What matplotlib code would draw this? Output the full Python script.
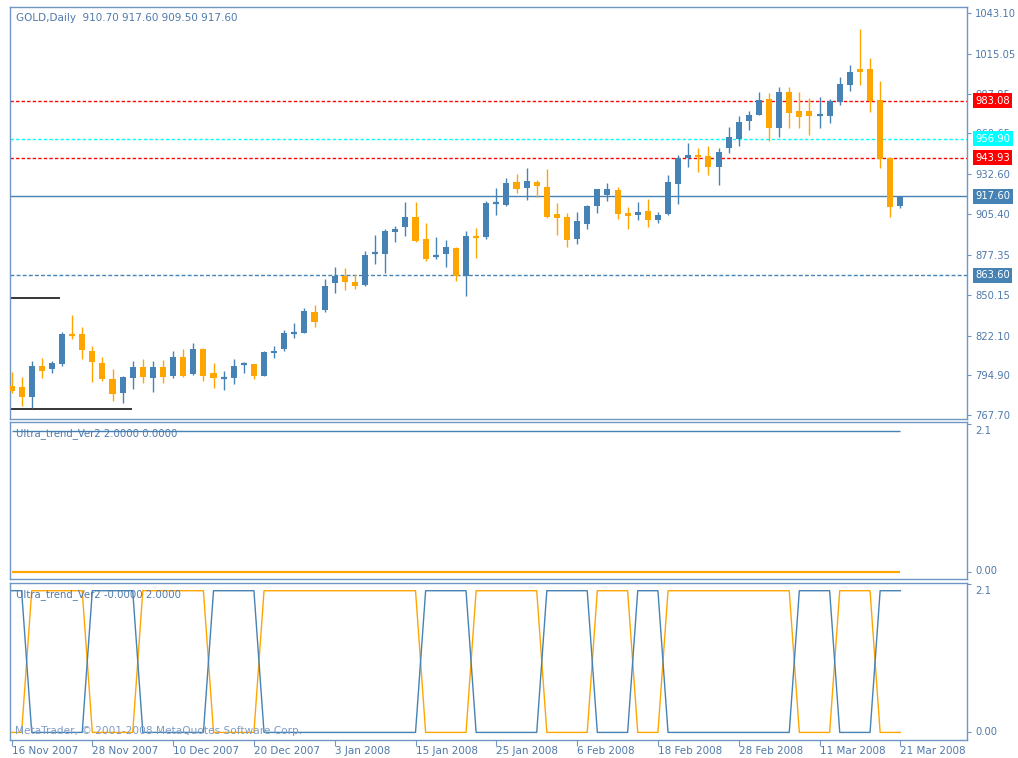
import matplotlib
matplotlib.use("Agg")
import matplotlib.pyplot as plt
import matplotlib.transforms as mtransforms

# ---------------- data ----------------
opens = [787.6, 786.7, 779.8, 801.3, 799.2, 802.4, 823.4, 823.0, 811.5, 803.1,
         792.6, 782.6, 792.8, 800.4, 792.8, 800.4, 794.6, 807.6, 795.6, 812.7,
         796.3, 792.5, 792.8, 802.4, 802.4, 794.6, 810.0, 812.7, 823.2, 824.1,
         838.5, 839.6, 857.9, 862.9, 859.0, 856.8, 877.8, 877.8, 893.3, 896.7,
         903.3, 888.5, 876.1, 877.8, 881.9, 863.1, 890.3, 889.4, 912.2, 911.6,
         927.5, 923.0, 927.5, 924.1, 905.2, 903.5, 888.1, 898.5, 910.9, 918.4,
         921.8, 906.3, 904.5, 907.7, 901.3, 905.4, 926.0, 943.6, 945.8, 945.1,
         937.4, 950.4, 956.6, 969.3, 973.2, 984.0, 964.1, 989.2, 976.2, 976.2,
         972.7, 972.5, 982.3, 993.8, 1004.5, 1004.5, 983.5, 943.6, 910.7]
highs = [797.4, 793.5, 804.7, 806.5, 805.0, 824.8, 836.2, 828.2, 815.2, 807.2,
         799.0, 794.4, 805.0, 805.9, 805.0, 805.4, 811.7, 812.7, 816.8, 813.4,
         803.1, 797.8, 805.9, 804.2, 803.0, 811.5, 815.2, 825.9, 830.5, 840.8,
         843.1, 860.7, 868.9, 868.2, 864.3, 880.2, 891.0, 894.9, 897.4, 913.8,
         913.8, 899.0, 889.4, 887.6, 882.6, 894.0, 895.6, 914.5, 923.0, 929.9,
         932.8, 936.7, 928.7, 936.0, 912.7, 905.9, 907.0, 911.6, 922.3, 926.8,
         924.1, 910.4, 913.8, 915.5, 907.0, 932.1, 945.8, 953.8, 950.4, 952.0,
         950.4, 964.8, 972.5, 976.2, 989.2, 988.5, 992.6, 992.6, 989.2, 984.7,
         985.4, 984.0, 999.5, 1007.5, 1031.9, 1012.1, 996.7, 943.9, 917.6]
lows = [782.6, 773.9, 772.3, 792.8, 796.3, 801.5, 819.8, 805.9, 790.5, 791.0,
        777.5, 775.7, 785.3, 789.4, 783.7, 789.4, 792.8, 793.9, 795.0, 791.2,
        786.0, 784.8, 788.9, 796.7, 792.2, 794.6, 806.9, 811.7, 820.6, 824.1,
        828.2, 838.5, 851.5, 853.3, 853.8, 856.1, 871.1, 864.8, 886.4, 890.5,
        886.4, 873.4, 874.4, 868.9, 859.7, 849.2, 875.0, 888.1, 904.7, 910.9,
        919.6, 915.0, 917.2, 902.4, 891.0, 883.0, 884.8, 894.9, 906.3, 914.5,
        901.8, 894.9, 901.3, 896.7, 899.4, 904.7, 912.2, 937.4, 934.4, 932.1,
        925.3, 947.4, 952.0, 963.0, 973.2, 955.6, 957.9, 964.1, 964.1, 959.5,
        964.1, 967.5, 980.1, 989.9, 993.8, 975.5, 936.7, 903.5, 909.5]
closes = [784.3, 780.0, 801.3, 798.0, 803.1, 823.2, 822.3, 812.2, 804.2, 792.2,
          781.9, 793.5, 800.4, 793.9, 800.4, 793.5, 807.6, 794.6, 812.7, 794.6,
          792.8, 793.0, 801.3, 803.1, 794.6, 810.8, 811.7, 823.7, 824.8, 839.2,
          831.6, 856.3, 863.1, 858.6, 856.1, 877.3, 879.2, 893.7, 894.9, 903.3,
          887.1, 874.8, 877.3, 882.6, 863.1, 890.3, 889.4, 912.7, 913.8, 926.8,
          922.5, 928.2, 924.6, 903.5, 902.9, 887.6, 900.8, 910.9, 922.3, 922.3,
          905.4, 904.0, 907.0, 901.3, 904.7, 927.5, 943.6, 945.8, 944.2, 937.4,
          948.1, 958.4, 968.6, 973.2, 983.5, 964.1, 989.2, 974.4, 971.6, 972.7,
          973.4, 983.0, 994.5, 1002.9, 1002.9, 983.0, 942.9, 910.0, 917.6]

date_labels = ['16 Nov 2007', '28 Nov 2007', '10 Dec 2007', '20 Dec 2007',
               '3 Jan 2008', '15 Jan 2008', '25 Jan 2008', '6 Feb 2008',
               '18 Feb 2008', '28 Feb 2008', '11 Mar 2008', '21 Mar 2008']
date_label_bars = [0, 8, 16, 24, 32, 40, 48, 56, 64, 72, 80, 88]

price_ticks = [1043.10, 1015.05, 987.85, 960.65, 932.60, 905.40, 877.35,
               850.15, 822.10, 794.90, 767.70]

red_levels = [983.08, 943.93]
cyan_level = 956.90
bid_level = 917.60
blue_dashed_level = 863.60
black_levels = [848.0, 771.8]
black_level_end_bars = [4.8, 11.9]

mid_blue = [2, 2, 2, 2, 2, 2, 2, 2, 2, 2, 2, 2, 2, 2, 2, 2, 2, 2, 2, 2,
            2, 2, 2, 2, 2, 2, 2, 2, 2, 2, 2, 2, 2, 2, 2, 2, 2, 2, 2, 2,
            2, 2, 2, 2, 2, 2, 2, 2, 2, 2, 2, 2, 2, 2, 2, 2, 2, 2, 2, 2,
            2, 2, 2, 2, 2, 2, 2, 2, 2, 2, 2, 2, 2, 2, 2, 2, 2, 2, 2, 2,
            2, 2, 2, 2, 2, 2, 2, 2, 2]
mid_orange = [0, 0, 0, 0, 0, 0, 0, 0, 0, 0, 0, 0, 0, 0, 0, 0, 0, 0, 0, 0,
              0, 0, 0, 0, 0, 0, 0, 0, 0, 0, 0, 0, 0, 0, 0, 0, 0, 0, 0, 0,
              0, 0, 0, 0, 0, 0, 0, 0, 0, 0, 0, 0, 0, 0, 0, 0, 0, 0, 0, 0,
              0, 0, 0, 0, 0, 0, 0, 0, 0, 0, 0, 0, 0, 0, 0, 0, 0, 0, 0, 0,
              0, 0, 0, 0, 0, 0, 0, 0, 0]

low_blue = [2, 2, 0, 0, 0, 0, 0, 0, 2, 2, 2, 2, 2, 0, 0, 0, 0, 0, 0, 0,
            2, 2, 2, 2, 2, 0, 0, 0, 0, 0, 0, 0, 0, 0, 0, 0, 0, 0, 0, 0,
            0, 2, 2, 2, 2, 2, 0, 0, 0, 0, 0, 0, 0, 2, 2, 2, 2, 2, 0, 0,
            0, 0, 2, 2, 2, 0, 0, 0, 0, 0, 0, 0, 0, 0, 0, 0, 0, 0, 2, 2,
            2, 2, 0, 0, 0, 0, 2, 2, 2]
low_orange = [0, 0, 2, 2, 2, 2, 2, 2, 0, 0, 0, 0, 0, 2, 2, 2, 2, 2, 2, 2,
              0, 0, 0, 0, 0, 2, 2, 2, 2, 2, 2, 2, 2, 2, 2, 2, 2, 2, 2, 2,
              2, 0, 0, 0, 0, 0, 2, 2, 2, 2, 2, 2, 2, 0, 0, 0, 0, 0, 2, 2,
              2, 2, 0, 0, 0, 2, 2, 2, 2, 2, 2, 2, 2, 2, 2, 2, 2, 2, 0, 0,
              0, 0, 2, 2, 2, 2, 0, 0, 0]

# ---------------- style ----------------
W, H = 1018, 758
BULL = '#4682B4'
BEAR = '#FFA500'
FRAME = '#7096c4'
TXT = '#4f79ab'
FONT = 'DejaVu Sans'
plt.rcParams['font.family'] = [FONT]

fig = plt.figure(figsize=(W / 100, H / 100), dpi=100, facecolor='white')


def px_axes(left, top, right, bottom):
    return fig.add_axes([left / W, 1 - bottom / H, (right - left) / W, (bottom - top) / H])


ax = px_axes(10, 7, 967, 419)
ax_mid = px_axes(10, 422, 967, 579)
ax_low = px_axes(10, 582.5, 967, 739.5)

n = len(opens)
xs = list(range(n))
XLIM = (-0.15, 94.6)

for a in (ax, ax_mid, ax_low):
    a.set_facecolor('white')
    a.set_xlim(*XLIM)
    for s in a.spines.values():
        s.set_color(FRAME)
        s.set_linewidth(1.0)
    a.yaxis.tick_right()
    a.tick_params(axis='y', colors=FRAME, labelcolor=TXT, length=3, width=0.8,
                  labelsize=7.2, pad=3)
    a.tick_params(axis='x', colors=FRAME, labelcolor=TXT, length=4, width=0.8,
                  labelsize=7.5, pad=1)

# ---------------- main candles ----------------
ax.set_ylim(765.0, 1047.2)
ax.set_yticks(price_ticks)
ax.set_yticklabels([f'{v:.2f}' for v in price_ticks])
ax.set_xticks([])

blended = mtransforms.blended_transform_factory(ax.transAxes, ax.transData)

for lv in red_levels:
    ax.axhline(lv, color='#FF0000', lw=1.0, dashes=(2.4, 1.6), zorder=1)
ax.axhline(cyan_level, color='#00FFFF', lw=1.0, dashes=(2.4, 1.6), zorder=1)
ax.axhline(bid_level, color=BULL, lw=1.0, zorder=1)
ax.axhline(blue_dashed_level, color=BULL, lw=1.0, dashes=(2.8, 1.6), zorder=1)
for lv, endb in zip(black_levels, black_level_end_bars):
    ax.hlines(lv, XLIM[0], endb, color='black', lw=1.1, zorder=1)

body_w = 0.6
for i in xs:
    o, h, l, c = opens[i], highs[i], lows[i], closes[i]
    col = BULL if c >= o else BEAR
    ax.vlines(i, l, h, color=col, lw=1.0, zorder=2)
    if abs(c - o) < 1.6:
        ax.hlines((o + c) / 2, i - body_w / 2, i + body_w / 2, color=col, lw=1.6, zorder=3)
    else:
        ax.bar(i, abs(c - o), bottom=min(o, c), width=body_w, color=col,
               linewidth=0, zorder=3)

# price label boxes on the right axis
for val, fc in [(red_levels[0], '#FF0000'), (cyan_level, '#00FFFF'),
                (red_levels[1], '#FF0000'), (bid_level, BULL),
                (blue_dashed_level, BULL)]:
    ax.text(1.0085, val, f'{val:.2f}', transform=blended, ha='left', va='center',
            fontsize=7.2, color='white', zorder=10, clip_on=False,
            bbox=dict(boxstyle='square,pad=0.25', facecolor=fc, edgecolor='none'))

fig.text(16 / W, 1 - 18 / H, 'GOLD,Daily  910.70 917.60 909.50 917.60',
         fontsize=7.5, color=TXT, ha='left', va='center')

# ---------------- middle indicator ----------------
ax_mid.set_ylim(-0.096, 2.123)
ax_mid.plot(xs, mid_orange, color=BEAR, lw=1.6, solid_capstyle='butt')
ax_mid.plot(xs, mid_blue, color=BULL, lw=1.0, solid_capstyle='butt')
ax_mid.set_xticks([])
ax_mid.set_yticks([2.1, 0.0])
ax_mid.set_yticklabels(['', ''])
fig.text(16 / W, 1 - 434 / H, 'Ultra_trend_Ver2 2.0000 0.0000',
         fontsize=7.3, color=TXT, ha='left', va='center')
fig.text(975 / W, 1 - 431 / H, '2.1', fontsize=7.2, color=TXT, ha='left', va='center')
fig.text(975 / W, 1 - 571.5 / H, '0.00', fontsize=7.2, color=TXT, ha='left', va='center')

# ---------------- lower indicator ----------------
ax_low.set_ylim(-0.10, 2.116)
ax_low.plot(xs, low_orange, color=BEAR, lw=1.0)
ax_low.plot(xs, low_blue, color=BULL, lw=1.0)
ax_low.set_yticks([2.1, 0.0])
ax_low.set_yticklabels(['', ''])
ax_low.set_xticks(date_label_bars)
ax_low.set_xticklabels(date_labels)
for lbl in ax_low.get_xticklabels():
    lbl.set_ha('left')
fig.text(16 / W, 1 - 595 / H, 'Ultra_trend_Ver2 -0.0000 2.0000',
         fontsize=7.3, color=TXT, ha='left', va='center')
fig.text(975 / W, 1 - 591 / H, '2.1', fontsize=7.2, color=TXT, ha='left', va='center')
fig.text(975 / W, 1 - 732 / H, '0.00', fontsize=7.2, color=TXT, ha='left', va='center')
fig.text(15 / W, 1 - 731 / H, 'MetaTrader, \u00a9 2001-2008 MetaQuotes Software Corp.',
         fontsize=7.6, color='#7f9cc4', ha='left', va='center')

fig.savefig('out.png', dpi=100, facecolor='white')
